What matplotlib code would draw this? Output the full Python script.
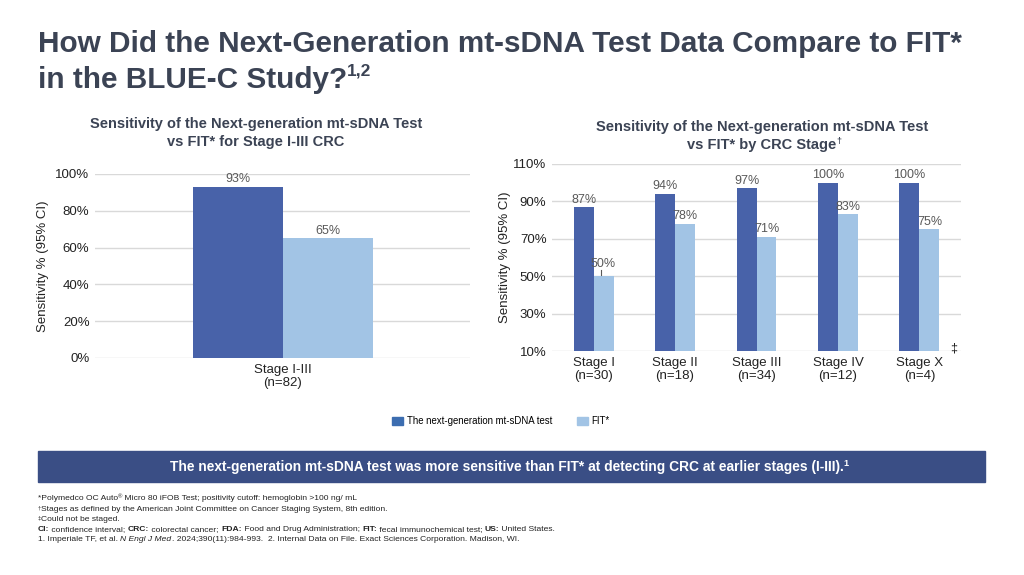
import matplotlib
matplotlib.use("Agg")
import matplotlib.pyplot as plt
from matplotlib.transforms import offset_copy
import numpy as np

W, H = 1024, 575

# data
left_cats = ["Stage I-III\n(n=82)"]
left_mt = [93]
left_fit = [65]

right_cats = ["Stage I\n(n=30)", "Stage II\n(n=18)", "Stage III\n(n=34)",
              "Stage IV\n(n=12)", "Stage X\n(n=4)"]
right_mt = [87, 94, 97, 100, 100]
right_fit = [50, 78, 71, 83, 75]

left_ticks = [0, 20, 40, 60, 80, 100]
right_ticks = [10, 30, 50, 70, 90, 110]

series_names = ["The next-generation mt-sDNA test", "FIT*"]

DARK = "#4862a9"
LIGHT = "#a2c4e5"
LEGEND_DARK = "#3c6db0"
TITLE_C = "#3b4354"
GRID_C = "#d9d9d9"
LABEL_C = "#595959"
BANNER_C = "#3a4e85"

plt.rcParams["font.family"] = ["Liberation Sans", "DejaVu Sans"]


def fx(x):
    return x / W


def fy(y):
    return 1 - y / H


def rich(fig, x, y, parts, **common):
    """Draw a run of text pieces one after another. parts: (text, dict)"""
    r = fig.canvas.get_renderer()
    t = fig.transFigure
    for s, kw in parts:
        kw = dict(kw)
        rise = kw.pop("rise", 0)
        opts = dict(common)
        opts.update(kw)
        tt = offset_copy(t, fig=fig, x=0, y=rise, units="dots")
        fig.text(fx(x), fy(y), s, transform=tt, va="baseline", **opts)
        # true advance: width(s + "x") - width("x")
        a = fig.text(0, 0, s + "x", **opts)
        b = fig.text(0, 0, "x", **opts)
        adv = a.get_window_extent(renderer=r).width - b.get_window_extent(renderer=r).width
        a.remove()
        b.remove()
        t = offset_copy(t, fig=fig, x=adv, y=0, units="dots")
    return t


def style_axes(ax, ticks):
    for s in ax.spines.values():
        s.set_visible(False)
    ax.set_yticks(ticks)
    ax.set_yticklabels([f"{v}%" for v in ticks])
    ax.yaxis.grid(True, color=GRID_C, linewidth=1)
    ax.set_axisbelow(True)
    ax.tick_params(axis="both", length=0, labelsize=9.5, colors="#222222", pad=4)
    ax.set_ylabel("Sensitivity % (95% CI)", fontsize=9.5, color="#222222")


fig = plt.figure(figsize=(W / 100, H / 100), dpi=100)
fig.patch.set_facecolor("white")

# main title
rich(fig, 38, 52, [("How Did the Next-Generation mt-sDNA Test Data Compare to FIT*", {})],
     fontsize=21.4, fontweight="bold", color=TITLE_C)
rich(fig, 38, 88, [("in the BLUE-C Study?", {}), ("1,2", {"fontsize": 12.5, "rise": 12})],
     fontsize=21.4, fontweight="bold", color=TITLE_C)

# left chart
axl = fig.add_axes([fx(95), fy(358), fx(375), 184 / H])
style_axes(axl, left_ticks)
axl.set_ylim(0, 100)
axl.set_xlim(-1, 1)
xl = np.arange(len(left_cats))
bw = 0.48
b1 = axl.bar(xl - bw / 2, left_mt, bw, color=DARK)
b2 = axl.bar(xl + bw / 2, left_fit, bw, color=LIGHT)
for bars, vals in ((b1, left_mt), (b2, left_fit)):
    for b, v in zip(bars, vals):
        axl.text(b.get_x() + b.get_width() / 2, v + 0.8, f"{v}%", ha="center",
                 va="bottom", fontsize=9, color=LABEL_C)
axl.set_xticks(xl)
axl.set_xticklabels(left_cats, fontsize=9.5, linespacing=1.15)
axl.yaxis.set_label_coords(-0.123, 0.5)

for txt, yy in (("Sensitivity of the Next-generation mt-sDNA Test", 128),
                ("vs FIT* for Stage I-III CRC", 146)):
    fig.text(fx(256), fy(yy), txt, ha="center", va="baseline", fontsize=10.5,
             fontweight="bold", color=TITLE_C)

# right chart
axr = fig.add_axes([fx(552), fy(351), fx(409), 187 / H])
style_axes(axr, right_ticks)
axr.set_ylim(10, 110)
axr.set_xlim(-0.51, 4.51)
xr = np.arange(len(right_cats))
bw = 0.245
c1 = axr.bar(xr - bw / 2, np.array(right_mt) - 10, bw, bottom=10, color=DARK)
c2 = axr.bar(xr + bw / 2, np.array(right_fit) - 10, bw, bottom=10, color=LIGHT)
for bars, vals in ((c1, right_mt), (c2, right_fit)):
    for b, v in zip(bars, vals):
        off = 3.5 if v == 50 else 0.8
        axr.text(b.get_x() + b.get_width() / 2, v + off, f"{v}%", ha="center",
                 va="bottom", fontsize=9, color=LABEL_C)
# small whisker under the 50% label
axr.plot([xr[0] + bw / 2 - 0.03] * 2, [50.5, 53.5], color=LABEL_C, lw=0.8)
axr.text(xr[-1] + bw + 0.17, 11.5, "\u2021", ha="center", va="center", fontsize=9,
         color="#222222", clip_on=False)
axr.set_xticks(xr)
axr.set_xticklabels(right_cats, fontsize=9.5, linespacing=1.15)
axr.yaxis.set_label_coords(-0.10, 0.5)

rich(fig, 596, 131, [("Sensitivity of the Next-generation mt-sDNA Test", {})],
     fontsize=10.5, fontweight="bold", color=TITLE_C)
rich(fig, 687, 149, [("vs FIT* by CRC Stage", {}), ("\u2020", {"fontsize": 6.5, "rise": 5})],
     fontsize=10.5, fontweight="bold", color=TITLE_C)

# legend
leg = fig.legend(
    [plt.Rectangle((0, 0), 1, 1, color=LEGEND_DARK), plt.Rectangle((0, 0), 1, 1, color=LIGHT)],
    series_names, loc="center", bbox_to_anchor=(fx(501), fy(421)), ncol=2, frameon=False,
    fontsize=6.9, handlelength=1.1, handleheight=0.9, handletextpad=0.4, columnspacing=2.6)

# banner
fig.patches.append(plt.Rectangle((fx(38), fy(482)), fx(947), 31 / H, transform=fig.transFigure,
                                 color=BANNER_C, zorder=0))
rich(fig, 170, 471.5,
     [("The next-generation mt-sDNA test was more sensitive than FIT* at detecting CRC at earlier stages (I-III).", {}),
      ("1", {"fontsize": 6.5, "rise": 5})],
     fontsize=9.9, fontweight="bold", color="white")

# footnotes
fs = dict(fontsize=6.1, color="#222222")
rich(fig, 38, 500, [("*Polymedco OC Auto", {}), ("\u00ae", {"fontsize": 4.2, "rise": 2}),
                    (" Micro 80 iFOB Test; positivity cutoff: hemoglobin >100 ng/ mL", {})], **fs)
rich(fig, 38, 511, [("\u2020", {"fontsize": 4.2, "rise": 2}),
                    ("Stages as defined by the American Joint Committee on Cancer Staging System, 8th edition.", {})], **fs)
rich(fig, 38, 521, [("\u2021", {"fontsize": 4.2, "rise": 2}), ("Could not be staged.", {})], **fs)
rich(fig, 38, 531, [("CI:", {"fontweight": "bold"}), (" confidence interval; ", {}),
                    ("CRC:", {"fontweight": "bold"}), (" colorectal cancer; ", {}),
                    ("FDA:", {"fontweight": "bold"}), (" Food and Drug Administration; ", {}),
                    ("FIT:", {"fontweight": "bold"}), (" fecal immunochemical test; ", {}),
                    ("US:", {"fontweight": "bold"}), (" United States.", {})], **fs)
rich(fig, 38, 541, [("1. Imperiale TF, et al. ", {}), ("N Engl J Med", {"fontstyle": "italic"}),
                    (". 2024;390(11):984-993.  2. Internal Data on File. Exact Sciences Corporation. Madison, WI.", {})],
     **fs)

fig.savefig("out.png", dpi=100)
